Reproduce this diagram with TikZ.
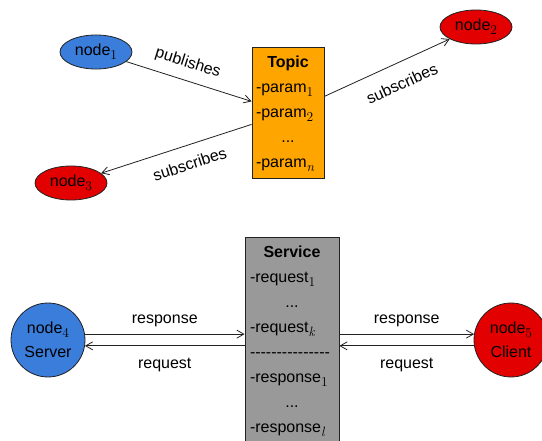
\documentclass[tikz,border=0pt]{standalone}
\usepackage{fontspec,array}
\setmainfont{Liberation Sans}
\newfontfamily\lmfont{Latin Modern Roman}
\usetikzlibrary{shapes.geometric,arrows.meta}
\definecolor{PubBlue}{HTML}{3A7DDA}
\definecolor{SubRed}{HTML}{E20000}
\definecolor{TopicOrange}{HTML}{FFA500}
\definecolor{ServiceGray}{HTML}{999999}
\definecolor{Edge}{HTML}{222222}
\newcommand\midrow[1]{\multicolumn{1}{@{}c@{}}{#1}}
\newcommand\idx[1]{\raisebox{-4pt}{\lmfont\fontsize{13.5}{13.5}\selectfont#1}}

\begin{document}
\begin{tikzpicture}[x=1pt,y=-1pt,font=\fontsize{16}{25}\selectfont,
  >={Straight Barb[length=7pt,width=8pt]},
  link/.style={->,draw=Edge,line width=0.8pt},
  ellnode/.style={ellipse,draw=Edge,line width=0.8pt,minimum width=72pt,minimum height=34pt,inner sep=0pt},
  roundnode/.style={circle,draw=Edge,line width=0.8pt,minimum size=74pt,inner sep=0pt,align=center,font=\fontsize{16}{23.5}\selectfont},
  listbox/.style={draw=Edge,line width=0.8pt,anchor=north,inner ysep=3pt}]
\clip (0,0) rectangle (542,441);
\fill[white] (0,0) rectangle (542,441);
% publish / subscribe
\node[ellnode,fill=PubBlue] (node1) at (96,52){node\idx{1}};
\node[ellnode,fill=SubRed] (node2) at (476,27){node\idx{2}};
\node[ellnode,fill=SubRed] (node3) at (71,183){node\idx{3}};
\node[listbox,fill=TopicOrange,inner xsep=4pt] (topic) at (288,47){\begin{tabular}{@{}p{64pt}@{}}\midrow{\textbf{Topic}}\\-param\idx{1}\\-param\idx{2}\\\midrow{...}\\-param\idx{\itshape n}\end{tabular}};
\draw[link] (node1) -- node[pos=0.45,sloped,above=6pt]{publishes} ([yshift=11.5pt]topic.west);
\draw[link] ([yshift=16.5pt]topic.east) -- node[pos=0.55,sloped,below=11pt]{subscribes} (node2);
\draw[link,<-] (node3) -- node[pos=0.55,sloped,below=9pt]{subscribes} ([yshift=-11.5pt]topic.west);
% service
\node[roundnode,fill=PubBlue] (node4) at (48,340){node\idx{4}\\Server};
\node[roundnode,fill=SubRed] (node5) at (511,340){node\idx{5}\\Client};
\node[listbox,fill=ServiceGray,inner xsep=5pt] (service) at (292,237){\begin{tabular}{@{}p{84pt}@{}}\midrow{\textbf{Service}}\\-request\idx{1}\\\midrow{...}\\-request\idx{\itshape k}\\-{}-{}-{}-{}-{}-{}-{}-{}-{}-{}-{}-{}-{}-{}-\\-response\idx{1}\\\midrow{...}\\-response\idx{\itshape l}\end{tabular}};
\draw[link] (node4.9) -- node[midway,above=4pt]{response} (node4.9 -| service.west);
\draw[link] (node4.351 -| service.west) -- node[midway,below=9pt]{request} (node4.351);
\draw[link] (service.east |- node5.171) -- node[midway,above=4pt]{response} (node5.171);
\draw[link] (node5.189) -- node[midway,below=9pt]{request} (node5.189 -| service.east);
\end{tikzpicture}
\end{document}
